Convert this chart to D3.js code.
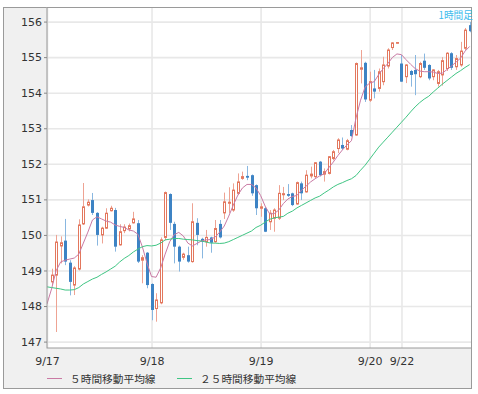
<!DOCTYPE html>
<html>
<head>
<meta charset="utf-8">
<script src="https://cdn.jsdelivr.net/npm/d3@7"></script>
<style>
    body { margin: 0; background: #fff; }
</style>
</head>
<body>
<div id="viz1"></div>
<script>

/* hourly candle chart (1時間足) with 5 and 25 hour moving averages */

// day labels on the x axis and the candle index where each day starts
const dayLabels = ["9/17", "9/18", "9/19", "9/20", "9/22"];
const dayStarts = [-1, 22, 46, 70, 77];

// y axis ticks
const yTicks = [147, 148, 149, 150, 151, 152, 153, 154, 155, 156];

// candles, one per hour
const opens = [148.68, 148.87, 149.69, 149.84, 149.22, 148.59, 149.04, 150.31, 150.84, 150.98,
    150.62, 150.00, 150.19, 150.68, 150.70, 149.72, 150.12, 150.17, 150.34, 150.33,
    149.29, 149.50, 148.62, 147.93, 148.09, 149.93, 151.15, 150.31, 149.67, 149.37,
    149.43, 149.25, 150.34, 149.89, 149.81, 149.93, 149.81, 150.31, 150.62, 150.89,
    150.70, 151.17, 151.59, 151.66, 151.68, 151.40, 150.75, 150.75, 150.37, 150.47,
    150.47, 151.13, 151.15, 151.17, 150.87, 151.45, 151.21, 151.66, 151.64, 152.06,
    151.71, 151.73, 152.15, 152.43, 152.53, 152.41, 152.95, 152.81, 154.66, 154.84,
    153.79, 154.12, 154.12, 154.31, 154.75, 155.27, 155.39, 154.82, 154.45, 154.61,
    154.64, 154.45, 154.90, 154.78, 154.45, 154.26, 154.50, 154.68, 155.11, 154.73,
    154.78, 155.25, 155.90];

const highs = [149.05, 150.00, 149.96, 150.45, 149.29, 149.12, 150.44, 151.46, 151.00, 151.18,
    150.64, 150.23, 150.75, 150.82, 150.76, 150.30, 150.30, 150.32, 150.65, 150.42,
    149.43, 149.52, 148.64, 148.36, 149.93, 151.22, 151.17, 150.37, 149.70, 149.50,
    149.67, 150.89, 150.47, 149.92, 150.14, 149.95, 150.42, 150.42, 151.19, 151.34,
    151.45, 151.73, 151.78, 151.94, 151.70, 151.42, 150.89, 150.79, 150.70, 150.75,
    151.40, 151.35, 151.43, 151.19, 151.50, 151.50, 151.82, 151.92, 152.05, 152.08,
    151.87, 152.22, 152.39, 152.72, 152.74, 152.70, 153.09, 154.85, 155.20, 154.87,
    154.59, 154.64, 154.68, 155.01, 155.25, 155.42, 155.42, 155.06, 154.80, 154.64,
    155.06, 154.87, 155.10, 154.80, 154.66, 154.64, 155.00, 155.14, 155.14, 155.06,
    155.43, 155.82, 155.99];

const lows = [148.58, 147.27, 149.20, 149.15, 148.30, 148.31, 149.00, 150.28, 150.80, 150.56,
    149.70, 149.76, 150.17, 150.66, 149.53, 149.70, 150.05, 150.10, 150.32, 149.21,
    148.64, 148.50, 147.60, 147.56, 148.05, 149.85, 150.14, 149.20, 148.97, 149.30,
    149.22, 149.22, 149.71, 149.34, 149.67, 149.50, 149.78, 149.90, 150.45, 150.62,
    150.65, 151.12, 151.55, 151.54, 151.10, 150.56, 150.51, 150.08, 150.14, 150.09,
    150.42, 150.98, 151.07, 150.81, 150.85, 150.98, 151.19, 151.59, 151.60, 151.64,
    151.50, 151.70, 152.10, 152.30, 152.39, 152.38, 152.76, 152.79, 154.26, 153.74,
    153.74, 153.84, 154.03, 154.21, 154.68, 155.20, 155.38, 154.30, 154.27, 154.17,
    153.93, 154.41, 154.64, 154.35, 154.35, 154.17, 154.20, 154.61, 154.64, 154.64,
    154.73, 155.20, 155.70];

const closes = [148.87, 149.80, 149.78, 149.25, 148.68, 149.07, 150.28, 150.79, 150.92, 150.62,
    150.00, 150.19, 150.61, 150.75, 149.67, 150.09, 150.22, 150.26, 150.45, 149.25,
    149.36, 148.59, 147.89, 148.17, 149.86, 151.19, 150.34, 149.67, 149.25, 149.46,
    149.25, 150.37, 150.00, 149.81, 149.93, 149.78, 150.18, 149.93, 150.93, 150.92,
    151.26, 151.49, 151.64, 151.61, 151.17, 150.75, 150.79, 150.09, 150.61, 150.70,
    151.17, 151.16, 151.10, 150.84, 151.47, 151.17, 151.68, 151.71, 152.03, 151.68,
    151.78, 152.20, 152.34, 152.67, 152.43, 152.65, 152.78, 154.82, 154.70, 153.81,
    154.31, 154.03, 154.59, 154.78, 155.20, 155.40, 155.41, 154.31, 154.78, 154.50,
    154.52, 154.82, 154.70, 154.40, 154.64, 154.59, 154.90, 155.11, 154.70, 154.96,
    155.17, 155.76, 155.73];

// moving averages, first value belongs to the hour before the first drawn candle
const maStart = -1;

const ma5 = [148.06, 148.48, 148.99, 149.24, 149.29, 149.32, 149.35, 149.46, 149.77, 150.08,
    150.42, 150.51, 150.45, 150.39, 150.36, 150.28, 150.24, 150.21, 150.14, 150.11,
    150.02, 149.66, 149.21, 148.83, 148.81, 149.07, 149.46, 149.81, 150.01, 150.07,
    149.97, 149.77, 149.69, 149.76, 149.83, 149.86, 149.87, 149.94, 150.08, 150.25,
    150.53, 150.84, 151.12, 151.32, 151.42, 151.42, 151.32, 151.11, 150.81, 150.59,
    150.60, 150.70, 150.88, 151.01, 151.08, 151.11, 151.26, 151.37, 151.49, 151.58,
    151.66, 151.72, 151.89, 152.05, 152.23, 152.39, 152.53, 152.65, 153.29, 153.79,
    154.16, 154.27, 154.31, 154.51, 154.68, 154.82, 154.99, 155.09, 155.07, 154.93,
    154.80, 154.68, 154.61, 154.59, 154.59, 154.58, 154.54, 154.55, 154.65, 154.75,
    154.86, 154.97, 155.17, 155.30];

const ma25 = [148.54, 148.52, 148.50, 148.48, 148.45, 148.45, 148.46, 148.52, 148.62, 148.69,
    148.76, 148.81, 148.89, 148.96, 149.04, 149.12, 149.24, 149.34, 149.42, 149.52,
    149.60, 149.67, 149.70, 149.69, 149.71, 149.77, 149.86, 149.88, 149.90, 149.90,
    149.88, 149.87, 149.86, 149.84, 149.83, 149.80, 149.77, 149.77, 149.76, 149.77,
    149.81, 149.87, 149.93, 149.99, 150.05, 150.11, 150.21, 150.27, 150.36, 150.44,
    150.48, 150.50, 150.52, 150.61, 150.67, 150.76, 150.83, 150.90, 150.97, 151.04,
    151.09, 151.18, 151.26, 151.35, 151.42, 151.47, 151.53, 151.58, 151.67, 151.82,
    151.96, 152.13, 152.30, 152.47, 152.61, 152.75, 152.89, 153.03, 153.17, 153.31,
    153.46, 153.60, 153.72, 153.82, 153.90, 154.02, 154.13, 154.24, 154.34, 154.44,
    154.54, 154.62, 154.71, 154.79];

const legendLabels = ["５時間移動平均線", "２５時間移動平均線"];


class CandleChart {

    constructor ( totalW, totalH, margin, xRange, yRange, parentDiv ){

        this.totalW = totalW;   // svg width
        this.totalH = totalH;   // svg height
        this.margin = margin;   // plot offset inside the svg
        this.width = totalW - margin.left - margin.right;   // plot width
        this.height = totalH - margin.top - margin.bottom;  // plot height

        this.scaleX = d3.scaleLinear( xRange, [0, this.width] );   // candle index -> px
        this.scaleY = d3.scaleLinear( yRange, [this.height, 0] );  // price -> px

        this.root = d3.select("#" + parentDiv)
            .append("svg")
                .attr("width", totalW)
                .attr("height", totalH);

        this.draw_frame();

        this.svg = this.root.append("g")
            .attr("transform", `translate(${margin.left},${margin.top})`);

        this.draw_grid();
        this.draw_candles();
        this.draw_ma(ma5, "#c97aa4");
        this.draw_ma(ma25, "#3fc583");
        this.draw_axis();
        this.draw_legend();
    }

    // gray panel round everything, white plot area
    draw_frame(){

        this.root.append("rect")
            .attr("x", 3.5).attr("y", 7.5)
            .attr("width", 468).attr("height", 381)
            .attr("fill", "#f0f0f0")
            .attr("stroke", "#9a9a9a");

        this.root.append("rect")
            .attr("x", this.margin.left).attr("y", this.margin.top + 0.5)
            .attr("width", this.width + 0.5).attr("height", this.height - 0.5)
            .attr("fill", "#fff");
    }

    draw_grid(){

        // horizontal grid
        this.svg.append("g")
            .attr("class", "grid")
            .call(d3.axisLeft(this.scaleY).tickValues(yTicks).tickSize(-this.width).tickFormat(""));

        // vertical grid at day starts
        this.svg.append("g")
            .attr("class", "grid")
            .attr("transform", `translate(0,${this.height})`)
            .call(d3.axisBottom(this.scaleX).tickValues(dayStarts).tickSize(-this.height).tickFormat(""));

        this.svg.selectAll(".grid .domain").remove();
        this.svg.selectAll(".grid line")
            .attr("stroke", "#e8e8e8")
            .attr("stroke-width", 1.6);

        // clip for candles and lines
        this.svg.append("clipPath").attr("id", "plot-clip")
            .append("rect")
                .attr("width", this.width).attr("height", this.height);
    }

    draw_candles(){

        const sx = d => Math.round(this.scaleX(d.i));   // snap candle centre to a pixel column
        const sy = this.scaleY;
        const candles = closes.map((c, i) => ({ i: i, o: opens[i], h: highs[i], l: lows[i], c: c }));
        const up = d => d.c >= d.o;

        const g = this.svg.append("g").attr("clip-path", "url(#plot-clip)");

        // wicks first, hollow bodies cover them
        g.selectAll(".wick")
            .data(candles)
            .join("line")
                .attr("class", "wick")
                .attr("x1", d => sx(d) + 0.5).attr("x2", d => sx(d) + 0.5)
                .attr("y1", d => sy(d.h)).attr("y2", d => sy(d.l))
                .attr("stroke", d => up(d) ? "#eea393" : "#89b7e0")
                .attr("stroke-width", 1);

        // up = hollow with red outline, down = filled blue
        g.selectAll(".body")
            .data(candles)
            .join("rect")
                .attr("class", "body")
                .attr("x", d => up(d) ? sx(d) - 0.5 : sx(d) - 1)
                .attr("width", d => up(d) ? 2 : 3)
                .attr("y", d => sy(Math.max(d.o, d.c)))
                .attr("height", d => Math.max(0.6, Math.abs(sy(d.o) - sy(d.c))))
                .attr("fill", d => up(d) ? "#fff" : "#3d83c4")
                .attr("stroke", d => up(d) ? "#e3775d" : "none")
                .attr("stroke-width", 1);
    }

    draw_ma( values, color ){

        const line = d3.line()
            .x((d, k) => this.scaleX(k + maStart))
            .y(d => this.scaleY(d));

        this.svg.append("path")
            .datum(values)
            .attr("clip-path", "url(#plot-clip)")
            .attr("fill", "none")
            .attr("stroke", color)
            .attr("stroke-width", 1)
            .attr("d", line);
    }

    draw_axis(){

        // plot border
        this.svg.append("rect")
            .attr("x", 0).attr("y", 0.5)
            .attr("width", this.width + 0.5).attr("height", this.height - 0.5)
            .attr("fill", "none")
            .attr("stroke", "#9a9a9a");

        const axisY = this.svg.append("g")
            .call(d3.axisLeft(this.scaleY).tickValues(yTicks).tickSize(3).tickPadding(2));

        const axisX = this.svg.append("g")
            .attr("transform", `translate(0,${this.height})`)
            .call(d3.axisBottom(this.scaleX).tickValues(dayStarts).tickSize(0).tickPadding(9)
                .tickFormat((d, k) => dayLabels[k]));

        [axisY, axisX].forEach(a => {
            a.select(".domain").remove();
            a.selectAll("line").attr("stroke", "#888");
            a.selectAll("text")
                .attr("fill", "#333")
                .style("font-family", "'DejaVu Sans', sans-serif")
                .style("font-size", "11px");
        });

        // time frame label in the top right corner
        this.svg.append("text")
            .attr("x", this.width + 2)
            .attr("y", 7.5)
            .attr("text-anchor", "end")
            .attr("dominant-baseline", "central")
            .attr("fill", "#3dbbed")
            .style("font-family", "'Noto Sans CJK JP', sans-serif")
            .style("font-size", "9.7px")
            .text("1時間足");
    }

    draw_legend(){

        const items = [
            { x: 47, label: legendLabels[0], color: "#c97aa4" },
            { x: 177, label: legendLabels[1], color: "#3fc583" }
        ];

        const g = this.root.append("g").attr("transform", "translate(0,378.5)");

        items.forEach(it => {
            g.append("line")
                .attr("x1", it.x).attr("x2", it.x + 15)
                .attr("stroke", it.color)
                .attr("stroke-width", 1);
            g.append("text")
                .attr("x", it.x + 23)
                .attr("dominant-baseline", "central")
                .attr("fill", "#333")
                .style("font-family", "'Noto Sans CJK JP', sans-serif")
                .style("font-size", "10.7px")
                .text(it.label);
        });
    }

}


const margin = { top: 7, right: 7, bottom: 46, left: 47 };

chart1 = new CandleChart( 478, 394, margin, [-1, 92.3], [146.82, 156.41], "viz1" );

</script>
</body>
</html>
